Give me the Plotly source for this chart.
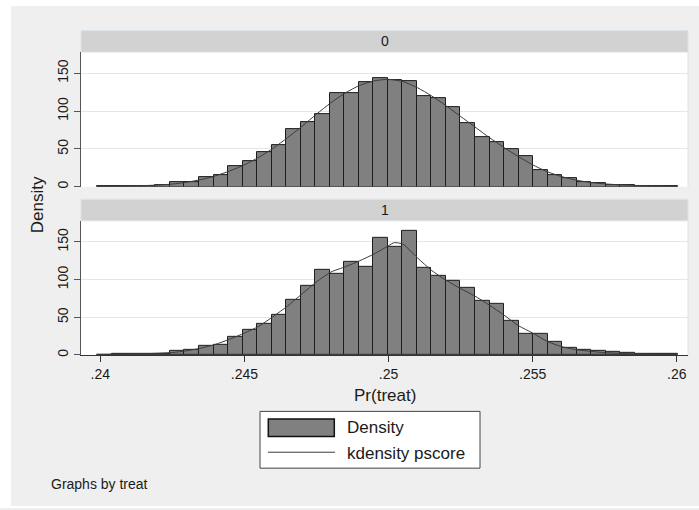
import plotly.graph_objects as go

# ---------------- data ----------------
bin_start = 0.239896
bin_width = 0.000504

dens_treat0 = [1.0, 0.3, 1.0, 1.3, 2.2, 6.2, 6.6, 12.8, 15.5, 27.0,
               34.0, 46.4, 55.6, 76.4, 85.6, 96.2, 123.2, 123.6, 138.2, 144.0,
               140.8, 140.0, 119.2, 117.4, 105.5, 84.8, 65.3, 59.2, 50.3, 40.2,
               22.0, 15.5, 11.0, 5.7, 5.3, 2.2, 1.8, 0.9, 0.5, 0.4]
dens_treat1 = [0.5, 1.8, 1.8, 0.9, 1.8, 4.8, 6.2, 11.4, 13.6, 24.2,
               33.9, 41.8, 53.3, 73.0, 91.5, 113.6, 108.3, 123.7, 117.1, 154.9,
               143.5, 165.0, 116.2, 105.6, 97.7, 88.9, 71.5, 67.3, 45.3, 28.2,
               28.6, 17.2, 9.7, 7.0, 5.3, 4.0, 2.6, 1.8, 1.3, 0.9]

kd_x0 = [0.2399, 0.2405, 0.2410, 0.2415, 0.2420, 0.2425, 0.2430, 0.2435, 0.2440, 0.2445,
         0.2450, 0.2455, 0.2460, 0.2465, 0.2470, 0.2475, 0.2480, 0.2485, 0.2490, 0.2495,
         0.2500, 0.2505, 0.2510, 0.2515, 0.2520, 0.2525, 0.2530, 0.2535, 0.2540, 0.2545,
         0.2550, 0.2555, 0.2560, 0.2565, 0.2570, 0.2575, 0.2580, 0.2585, 0.2590, 0.2595, 0.2600]
kd_y0 = [0.5, 0.7, 1.0, 1.5, 2.3, 3.6, 6.0, 9.5, 14.5, 21.0,
         29.0, 39.0, 51.0, 65.0, 80.0, 96.0, 111.0, 124.0, 134.0, 140.0,
         142.0, 139.0, 131.0, 120.0, 107.0, 93.0, 79.0, 65.0, 52.0, 40.0,
         29.0, 20.0, 13.5, 8.8, 5.7, 3.8, 2.6, 1.8, 1.2, 0.8, 0.4]

kd_x1 = [0.2399, 0.2405, 0.2410, 0.2415, 0.2420, 0.2425, 0.2430, 0.2435, 0.2440, 0.2445,
         0.2450, 0.2455, 0.2460, 0.2465, 0.2470, 0.2475, 0.2480, 0.2485, 0.2490, 0.2495,
         0.2500, 0.2502, 0.2505, 0.2510, 0.2515, 0.2520, 0.2525, 0.2530, 0.2535, 0.2540,
         0.2545, 0.2550, 0.2555, 0.2560, 0.2565, 0.2570, 0.2575, 0.2580, 0.2585, 0.2590,
         0.2595, 0.2600]
kd_y1 = [0.4, 0.8, 1.2, 1.6, 2.2, 3.2, 5.5, 9.0, 14.0, 21.0,
         29.0, 38.0, 51.0, 65.0, 81.0, 97.0, 110.0, 117.0, 125.0, 134.0,
         145.0, 149.0, 147.0, 129.0, 112.0, 99.0, 88.0, 78.0, 66.0, 53.0,
         39.0, 29.0, 18.0, 11.0, 7.0, 4.8, 3.0, 2.2, 1.3, 0.9,
         0.5, 0.4]

panel_labels = ["0", "1"]
x_tickvals = [0.24, 0.245, 0.25, 0.255, 0.26]
x_ticktext = [".24", ".245", ".25", ".255", ".26"]
y_tickvals = [0, 50, 100, 150]
y_ticktext = ["0", "50", "100", "150"]
legend_labels = ["Density", "kdensity pscore"]
x_title = "Pr(treat)"
y_title = "Density"
note_text = "Graphs by treat"

# ---------------- layout helpers ----------------
W, H = 699, 510
FONT = "Liberation Sans, Arial, sans-serif"
TXT = "#1a1a1a"
BAR_FILL = "#808080"
BAR_LINE = "#1e1e1e"
KD_COLOR = "#3c3c3c"


def px(xp):
    return xp / W


def py(yp):
    return 1 - yp / H


centers = [bin_start + (i + 0.5) * bin_width for i in range(len(dens_treat0))]

fig = go.Figure()

for k, (dens, kx, ky) in enumerate([(dens_treat0, kd_x0, kd_y0), (dens_treat1, kd_x1, kd_y1)]):
    xa = "x" if k == 0 else "x2"
    ya = "y" if k == 0 else "y2"
    fig.add_trace(go.Bar(x=centers, y=dens, width=bin_width, xaxis=xa, yaxis=ya,
                         marker=dict(color=BAR_FILL, line=dict(color=BAR_LINE, width=1)),
                         showlegend=False, name=legend_labels[0]))
    fig.add_trace(go.Scatter(x=kx, y=ky, mode="lines", xaxis=xa, yaxis=ya,
                             line=dict(color=KD_COLOR, width=1, shape="spline", smoothing=0.6),
                             showlegend=False, name=legend_labels[1]))

plot_l, plot_r = 81, 688
top_dom = [py(187.5), py(52.3)]
bot_dom = [py(356.3), py(221.7)]
x_range = [0.23933, 0.26039]
y_range = [0, 178]

yaxis_common = dict(range=y_range, tickvals=y_tickvals, ticktext=y_ticktext, tickangle=-90,
                    ticks="outside", ticklen=6, tickcolor="#555555", tickwidth=1,
                    showline=True, linecolor="#555555", linewidth=1,
                    showgrid=True, gridcolor="#e6e6e6", gridwidth=1, zeroline=False,
                    tickfont=dict(family=FONT, size=14, color=TXT), fixedrange=True)

fig.update_layout(
    width=W, height=H, autosize=False,
    margin=dict(l=0, r=0, t=0, b=0),
    paper_bgcolor="#efefef", plot_bgcolor="white",
    bargap=0, showlegend=False,
    font=dict(family=FONT, color=TXT),
    xaxis=dict(domain=[px(plot_l), px(plot_r)], range=x_range, anchor="y",
               showticklabels=False, ticks="", showline=False, showgrid=False,
               zeroline=False, fixedrange=True),
    xaxis2=dict(domain=[px(plot_l), px(plot_r)], range=x_range, anchor="y2",
                tickvals=x_tickvals, ticktext=x_ticktext, ticks="outside", ticklen=6,
                tickcolor="#333333", showline=True, linecolor="#333333", linewidth=1,
                showgrid=False, zeroline=False,
                tickfont=dict(family=FONT, size=14, color=TXT), fixedrange=True),
    yaxis=dict(domain=top_dom, anchor="x", **yaxis_common),
    yaxis2=dict(domain=bot_dom, anchor="x2", **yaxis_common),
)

shapes = []
# white outer margins
shapes.append(dict(type="rect", xref="paper", yref="paper", x0=0, x1=px(11), y0=0, y1=1,
                   fillcolor="white", line=dict(width=0), layer="below"))
shapes.append(dict(type="rect", xref="paper", yref="paper", x0=0, x1=1, y0=py(6), y1=1,
                   fillcolor="white", line=dict(width=0), layer="below"))
shapes.append(dict(type="rect", xref="paper", yref="paper", x0=0, x1=1, y0=0, y1=py(508),
                   fillcolor="white", line=dict(width=0), layer="below"))
# faint plot-area borders
for (t, b) in [(52.3, 187.5), (221.7, 356.3)]:
    shapes.append(dict(type="line", xref="paper", yref="paper", x0=px(plot_r), x1=px(plot_r),
                       y0=py(b), y1=py(t), line=dict(color="#e2e2e2", width=1), layer="below"))
# strips
for (t, b) in [(30.7, 52.3), (200.0, 221.7)]:
    shapes.append(dict(type="rect", xref="paper", yref="paper", x0=px(plot_l), x1=px(plot_r),
                       y0=py(b), y1=py(t), fillcolor="#d2d2d2",
                       line=dict(color="#dde4ea", width=1), layer="above"))
# legend box
shapes.append(dict(type="rect", xref="paper", yref="paper", x0=px(260), x1=px(480),
                   y0=py(470), y1=py(413), fillcolor="white",
                   line=dict(color="#444444", width=1), layer="above"))
shapes.append(dict(type="rect", xref="paper", yref="paper", x0=px(268.3), x1=px(334.3),
                   y0=py(438.3), y1=py(420.7), fillcolor=BAR_FILL,
                   line=dict(color="#111111", width=1.5), layer="above"))
shapes.append(dict(type="line", xref="paper", yref="paper", x0=px(268), x1=px(335),
                   y0=py(454), y1=py(454), line=dict(color=KD_COLOR, width=1), layer="above"))
fig.update_layout(shapes=shapes)

ann = []
for lab, yc in zip(panel_labels, [41.5, 211.0]):
    ann.append(dict(text=lab, x=px((plot_l + plot_r) / 2), y=py(yc), xref="paper", yref="paper",
                    showarrow=False, xanchor="center", yanchor="middle",
                    font=dict(family=FONT, size=14, color=TXT)))
ann.append(dict(text=y_title, x=px(37), y=py(206), xref="paper", yref="paper", textangle=-90,
                showarrow=False, xanchor="center", yanchor="middle",
                font=dict(family=FONT, size=17, color=TXT)))
ann.append(dict(text=x_title, x=px(170 + 214.5), y=py(396.7), xref="paper", yref="paper",
                showarrow=False, xanchor="center", yanchor="middle",
                font=dict(family=FONT, size=17, color=TXT)))
ann.append(dict(text=legend_labels[0], x=px(345), y=py(429.5), xref="paper", yref="paper",
                showarrow=False, xanchor="left", yanchor="middle",
                font=dict(family=FONT, size=17, color=TXT)))
ann.append(dict(text=legend_labels[1], x=px(345), y=py(455), xref="paper", yref="paper",
                showarrow=False, xanchor="left", yanchor="middle",
                font=dict(family=FONT, size=17, color=TXT)))
ann.append(dict(text=note_text, x=px(49), y=py(486), xref="paper", yref="paper",
                showarrow=False, xanchor="left", yanchor="middle",
                font=dict(family=FONT, size=14, color=TXT)))
fig.update_layout(annotations=ann)

fig.write_html("out.html")
